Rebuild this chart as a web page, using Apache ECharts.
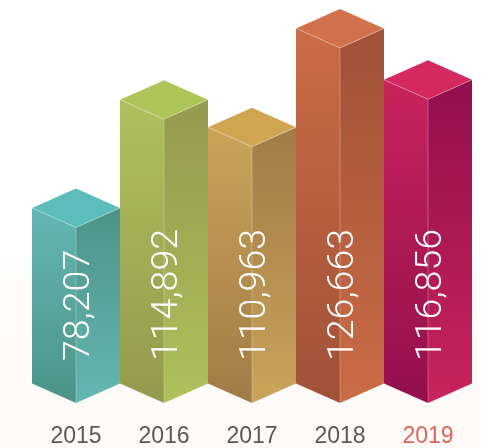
<!DOCTYPE html>
<html>
<head>
<meta charset="utf-8">
<style>
  html, body { margin: 0; padding: 0; background: linear-gradient(#ffffff 45%, #fdfaf7 100%); }
  #chart { width: 481px; height: 448px; }
</style>
<script src="https://cdn.jsdelivr.net/npm/echarts@6/dist/echarts.min.js"></script>
</head>
<body>
<div id="chart"></div>
<script>
const categories = ["2015", "2016", "2017", "2018", "2019"];
// printed numbers
const printedValues = [78207, 114892, 110963, 126663, 116856];
// the columns in the picture are not to scale with the printed numbers, so heights are read separately
const columnHeights = [176, 284.5, 257, 356, 304.5];

const topColors = ["#5cbdbb", "#afc55a", "#cfa552", "#d2724c", "#d4295f"];
const lightColors = ["#64b7b3", "#afc05c", "#c9a45a", "#cb6c46", "#c9245c"];
const darkColors = ["#4b9389", "#949a4e", "#a07b45", "#a05238", "#920f4d"];

const DEPTH = 19.5;

function vertical(from, to) {
  return {
    type: "linear", x: 0, y: 0, x2: 0, y2: 1,
    colorStops: [{ offset: 0, color: from }, { offset: 1, color: to }],
  };
}

function renderColumn(params, api) {
  const i = params.dataIndex;
  const top = api.coord([api.value(0), api.value(1)]);
  const base = api.coord([api.value(0), 0]);
  const half = api.size([1, 0])[0] / 2;
  const cx = top[0];
  const edge = "rgba(255,255,255,0.28)";
  return {
    type: "group",
    children: [
      {
        type: "polygon",
        shape: { points: [[cx - half, top[1] - DEPTH], [cx, top[1]], [cx, base[1]], [cx - half, base[1] - DEPTH]] },
        style: { fill: vertical(lightColors[i], darkColors[i]) },
      },
      {
        type: "polygon",
        shape: { points: [[cx, top[1]], [cx + half, top[1] - DEPTH], [cx + half, base[1] - DEPTH], [cx, base[1]]] },
        style: { fill: vertical(darkColors[i], lightColors[i]) },
      },
      {
        type: "polygon",
        shape: { points: [[cx, top[1] - 2 * DEPTH], [cx + half, top[1] - DEPTH], [cx, top[1]], [cx - half, top[1] - DEPTH]] },
        style: { fill: topColors[i] },
      },
      {
        type: "polyline",
        shape: { points: [[cx - half, top[1] - DEPTH], [cx, top[1]], [cx + half, top[1] - DEPTH]] },
        style: { stroke: edge, lineWidth: 1, fill: null },
      },
      {
        type: "line",
        shape: { x1: cx, y1: top[1], x2: cx, y2: base[1] },
        style: { stroke: edge, lineWidth: 1 },
      },
      {
        type: "text",
        x: cx + 4,
        y: 361,
        rotation: Math.PI / 2,
        style: {
          text: echarts.format.addCommas(printedValues[i]),
          fill: "#ffffff",
          font: '300 37.5px "Roboto", "Liberation Sans", sans-serif',
          align: "left",
          verticalAlign: "middle",
        },
      },
    ],
  };
}

const chart = echarts.init(document.getElementById("chart"), null, { renderer: "canvas" });
chart.setOption({
  animation: false,
  grid: { left: 32, width: 440, top: 0, height: 404 },
  xAxis: {
    type: "category",
    data: categories,
    axisLine: { show: false },
    axisTick: { show: false },
    axisLabel: {
      margin: 22,
      fontSize: 23,
      fontFamily: "Liberation Sans",
      color: (v) => (v === "2019" ? "#e0645a" : "#595959"),
    },
  },
  yAxis: { type: "value", min: 0, max: 404, show: false },
  series: [
    {
      type: "custom",
      renderItem: renderColumn,
      clip: false,
      encode: { x: 0, y: 1 },
      data: categories.map((c, i) => [c, columnHeights[i]]),
    },
  ],
});
</script>
</body>
</html>
